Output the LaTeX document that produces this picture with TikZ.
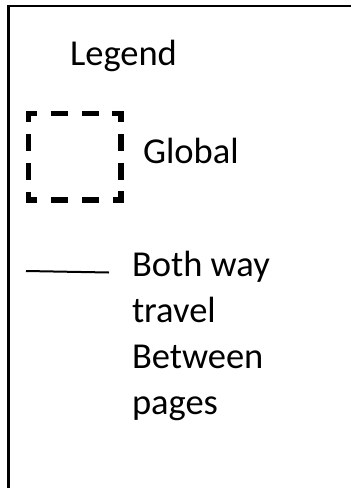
\documentclass[tikz,border=0pt]{standalone}
\usepackage{fontspec}
\setmainfont{Carlito}
\begin{document}
\begin{tikzpicture}[x=1pt,y=-1pt,
  legend text/.style={anchor=base west, inner sep=0pt, outer sep=0pt,
    font=\fontsize{36.5}{46}\selectfont},
  frame line/.style={line width=2.4pt, line join=miter},
  dash box/.style={line width=5.5pt, line join=miter,
    dash pattern=on 17pt off 13.83pt on 17pt off 11.83pt on 17pt off 11.83pt
      on 17pt off 11.83pt on 17pt off 13.83pt on 17pt off 13.83pt,
    dash phase=172.08pt},
  sample line/.style={line width=2pt}]
\useasboundingbox (0,0) rectangle (351,488);

% open frame: left and top edges only
\draw[frame line] (8.3,488) -- (8.3,6.2) -- (351,6.2);

% title
\node[legend text] (legend) at (70,65) {Legend};

% dashed square for the global marker
\node[minimum width=92.5pt, minimum height=86.5pt, inner sep=0pt, outer sep=0pt]
  (gbox) at (74.75,156.75) {};
\draw[dash box] (gbox.north) -- (gbox.north east) -- (gbox.south east)
  -- (gbox.south west) -- (gbox.north west) -- cycle;
\node[legend text] (global) at (143,163) {Global};

% solid line sample; the multi-line label sits on the baseline of its last line
\coordinate (line start) at (26,271);
\coordinate (line end) at (109,272.5);
\draw[sample line] (line start) -- (line end);
\node[legend text, align=left] (both) at (132,414) {Both way\\travel\\Between\\pages};
\end{tikzpicture}
\end{document}
